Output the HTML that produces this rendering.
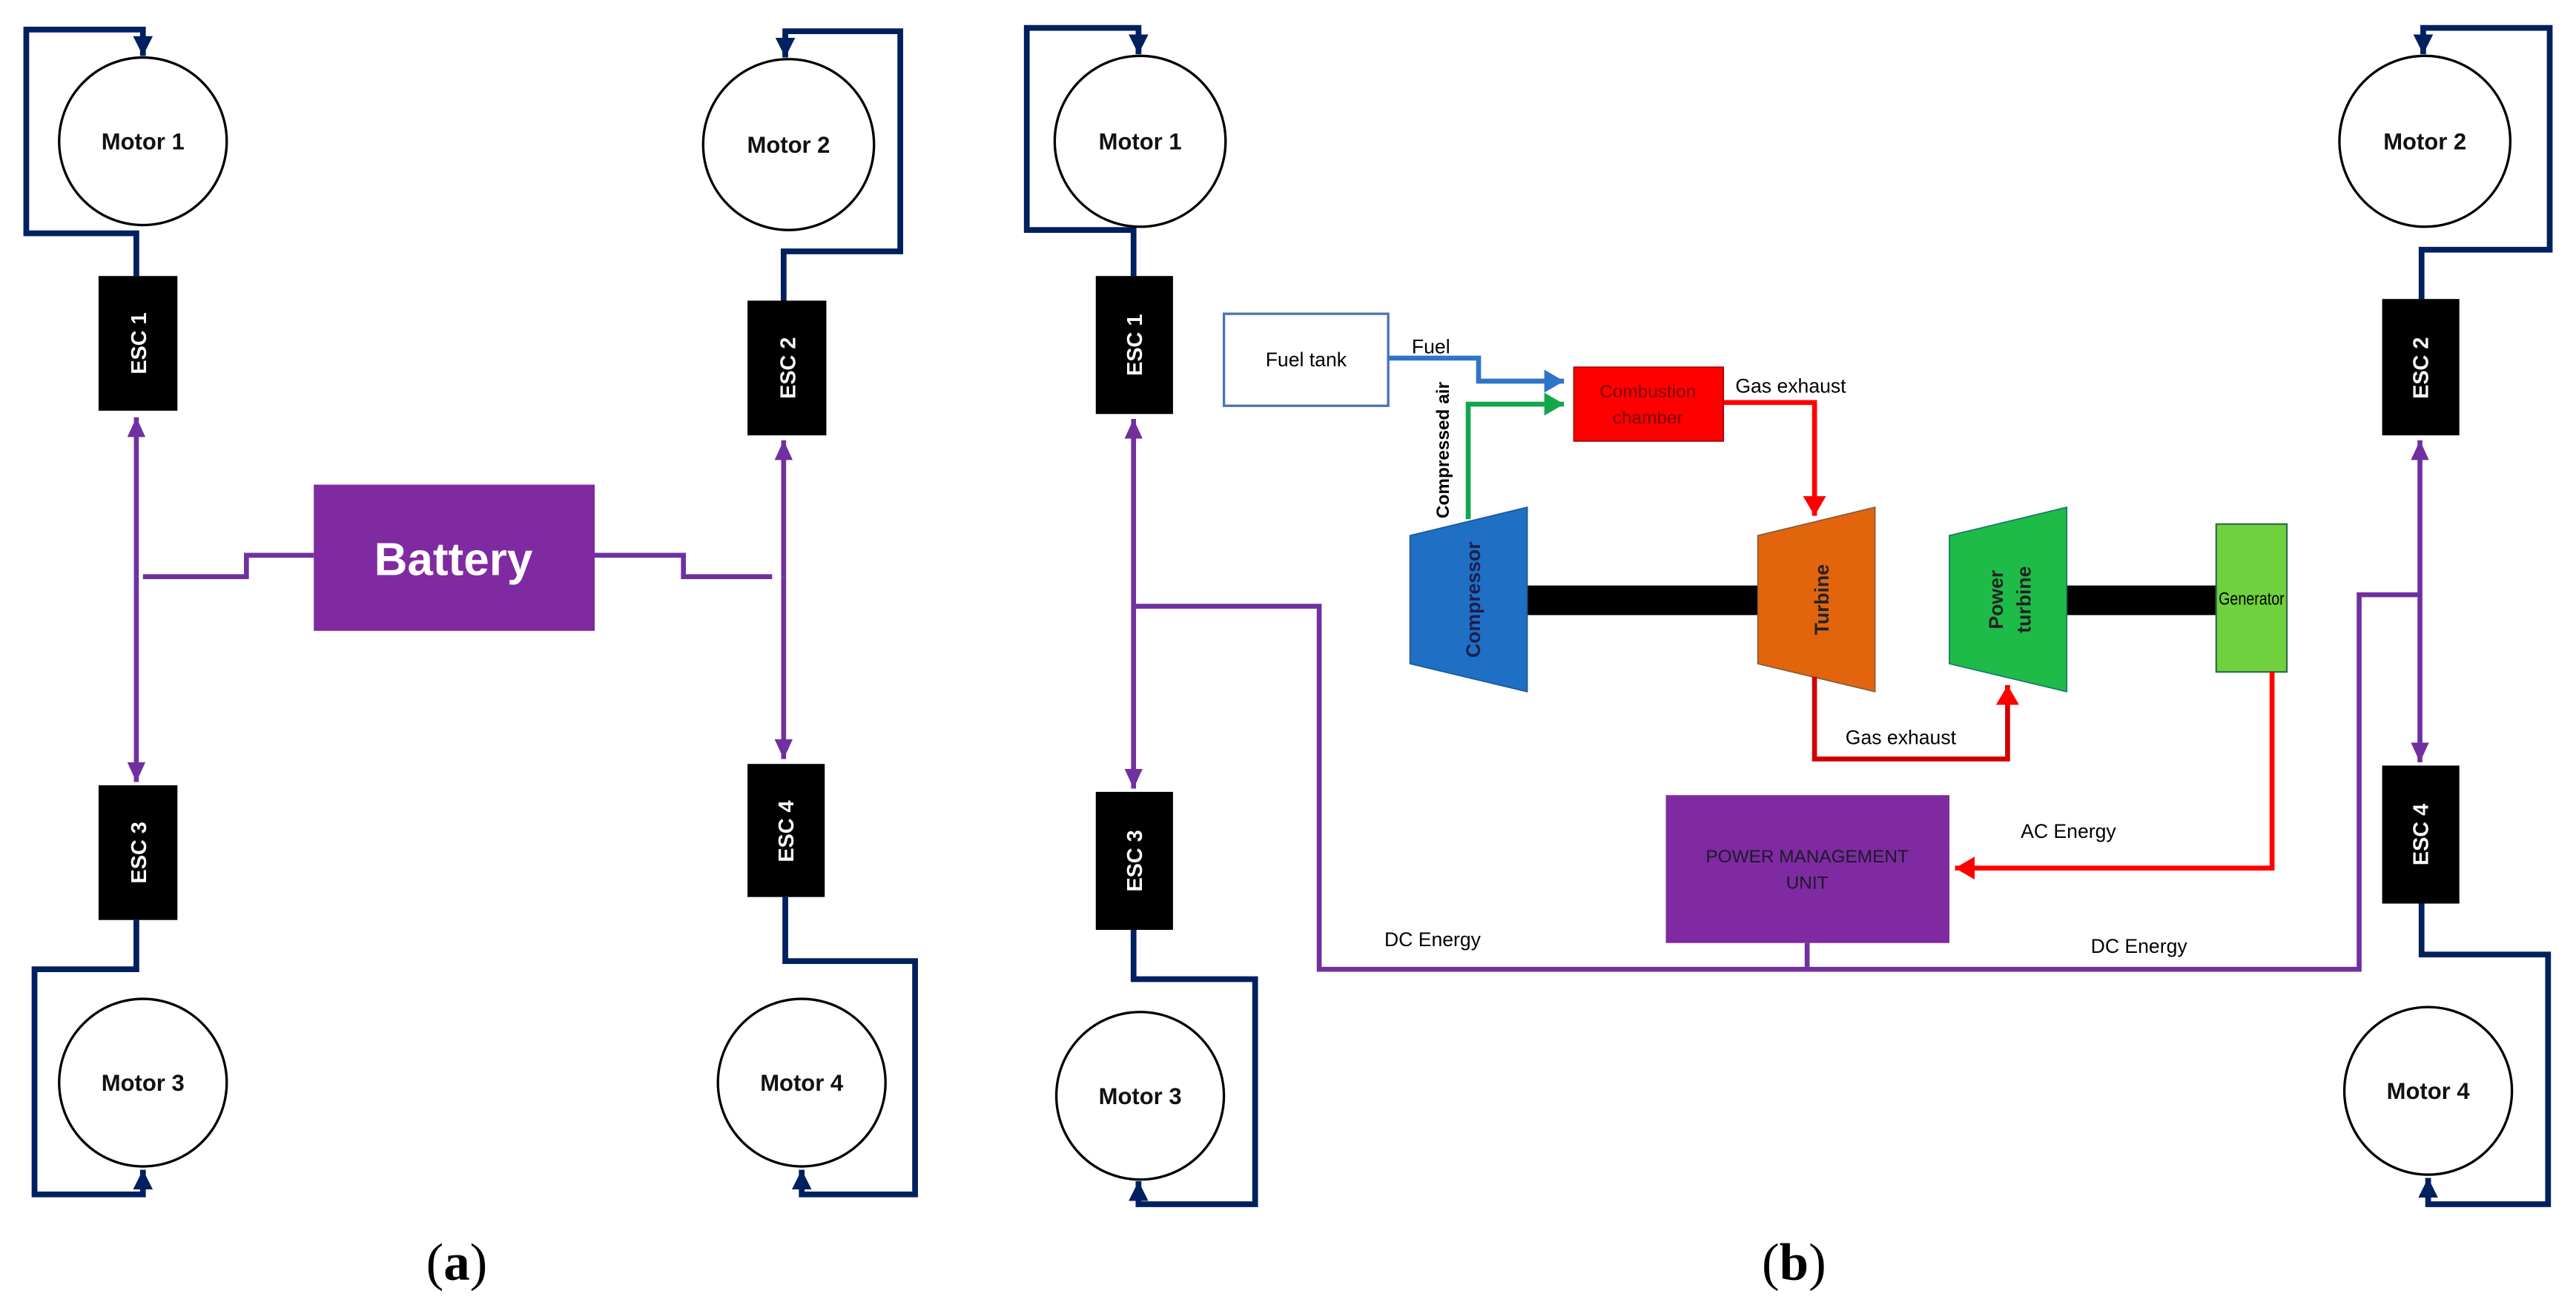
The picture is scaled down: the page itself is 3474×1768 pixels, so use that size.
<!DOCTYPE html>
<html><head><meta charset="utf-8"><style>html,body{margin:0;padding:0;background:#fff}svg{display:block}</style></head>
<body>
<svg width="3474" height="1768" viewBox="0 0 1568 798" preserveAspectRatio="none" xmlns="http://www.w3.org/2000/svg" font-family="Liberation Sans, sans-serif">
<defs>
<marker id="an" markerUnits="userSpaceOnUse" markerWidth="14" markerHeight="14" refX="12" refY="7" orient="auto"><path d="M0,1 L12,7 L0,13 z" fill="#002060"/></marker>
<marker id="ap" markerUnits="userSpaceOnUse" markerWidth="14" markerHeight="14" refX="12" refY="7" orient="auto"><path d="M0,1.5 L12,7 L0,12.5 z" fill="#7030a0"/></marker>
<marker id="ab" markerUnits="userSpaceOnUse" markerWidth="14" markerHeight="16" refX="12" refY="8" orient="auto"><path d="M0,1 L12,8 L0,15 z" fill="#2e75c9"/></marker>
<marker id="ag" markerUnits="userSpaceOnUse" markerWidth="14" markerHeight="16" refX="12" refY="8" orient="auto"><path d="M0,1 L12,8 L0,15 z" fill="#10a84a"/></marker>
<marker id="ar" markerUnits="userSpaceOnUse" markerWidth="14" markerHeight="16" refX="12" refY="8" orient="auto"><path d="M0,1 L12,8 L0,15 z" fill="#ff0000"/></marker>
</defs>
<g fill="none" stroke="#002060" stroke-width="3.5">
<polyline points="83,168 83,142 16,142 16,18 87,18 87,34" marker-end="url(#an)"/>
<polyline points="477,183 477,153 548,153 548,19 478,19 478,35" marker-end="url(#an)"/>
<polyline points="83,560 83,590 21,590 21,727 87,727 87,712" marker-end="url(#an)"/>
<polyline points="478,546 478,585 557,585 557,727 488,727 488,712" marker-end="url(#an)"/>
<polyline points="690,168 690,140 625,140 625,17 693,17 693,33" marker-end="url(#an)"/>
<polyline points="1474,182 1474,152 1552,152 1552,17 1475,17 1475,33" marker-end="url(#an)"/>
<polyline points="690,566 690,596 764,596 764,733 693,733 693,719" marker-end="url(#an)"/>
<polyline points="1474,550 1474,581 1551,581 1551,733 1478,733 1478,717" marker-end="url(#an)"/>
</g>
<g fill="#fff" stroke="#000" stroke-width="1.5">
<circle cx="87" cy="86" r="51"/><circle cx="480" cy="88" r="52"/><circle cx="87" cy="659" r="51"/><circle cx="488" cy="659" r="51"/>
<circle cx="694" cy="86" r="52"/><circle cx="1476" cy="86" r="52"/><circle cx="694" cy="667" r="51"/><circle cx="1478" cy="664" r="51"/>
</g>
<g font-weight="bold" font-size="14" text-anchor="middle" fill="#111">
<text x="87" y="91">Motor 1</text><text x="480" y="93">Motor 2</text><text x="87" y="664">Motor 3</text><text x="488" y="664">Motor 4</text>
<text x="694" y="91">Motor 1</text><text x="1476" y="91">Motor 2</text><text x="694" y="672">Motor 3</text><text x="1478" y="669">Motor 4</text>
</g>
<g fill="none" stroke="#7030a0" stroke-width="3">
<polyline points="191,338 150,338 150,351 87,351"/>
<polyline points="362,338 416,338 416,351 470,351"/>
<line x1="83" y1="351" x2="83" y2="254" marker-end="url(#ap)"/>
<line x1="83" y1="351" x2="83" y2="476" marker-end="url(#ap)"/>
<line x1="477" y1="351" x2="477" y2="268" marker-end="url(#ap)"/>
<line x1="477" y1="351" x2="477" y2="462" marker-end="url(#ap)"/>
<line x1="690" y1="368" x2="690" y2="255" marker-end="url(#ap)"/>
<line x1="690" y1="368" x2="690" y2="480" marker-end="url(#ap)"/>
<line x1="1473" y1="362" x2="1473" y2="268" marker-end="url(#ap)"/>
<line x1="1473" y1="362" x2="1473" y2="464" marker-end="url(#ap)"/>
<polyline points="690,369 803,369 803,590 1436,590 1436,362 1473,362"/>
<line x1="1100" y1="574" x2="1100" y2="590"/>
</g>
<g fill="#000">
<rect x="60" y="168" width="48" height="82"/><rect x="455" y="183" width="48" height="82"/>
<rect x="60" y="478" width="48" height="82"/><rect x="455" y="465" width="47" height="81"/>
<rect x="667" y="168" width="47" height="84"/><rect x="1450" y="182" width="47" height="83"/>
<rect x="667" y="482" width="47" height="84"/><rect x="1450" y="466" width="47" height="84"/>
</g>
<g fill="#fff" font-weight="bold" font-size="13" text-anchor="middle">
<text transform="translate(89,209) rotate(-90)">ESC 1</text>
<text transform="translate(484,224) rotate(-90)">ESC 2</text>
<text transform="translate(89,519) rotate(-90)">ESC 3</text>
<text transform="translate(483,506) rotate(-90)">ESC 4</text>
<text transform="translate(695,210) rotate(-90)">ESC 1</text>
<text transform="translate(1478,224) rotate(-90)">ESC 2</text>
<text transform="translate(695,524) rotate(-90)">ESC 3</text>
<text transform="translate(1478,508) rotate(-90)">ESC 4</text>
</g>
<rect x="191" y="295" width="171" height="89" fill="#7f2aa0"/>
<text x="276" y="350" fill="#fff" font-weight="bold" font-size="28" text-anchor="middle">Battery</text>
<rect x="745" y="191" width="100" height="56" fill="#fff" stroke="#4a72b8" stroke-width="1.5"/>
<text x="795" y="223" font-size="12" text-anchor="middle">Fuel tank</text>
<polyline points="845,218 900,218 900,232 952,232" fill="none" stroke="#2e75c9" stroke-width="3" marker-end="url(#ab)"/>
<text x="871" y="215" font-size="12" text-anchor="middle">Fuel</text>
<polyline points="893.7,316 893.7,246 952,246" fill="none" stroke="#10a84a" stroke-width="3" marker-end="url(#ag)"/>
<text transform="translate(882,274) rotate(-90)" font-size="11" font-weight="bold" text-anchor="middle">Compressed air</text>
<rect x="958" y="223.5" width="91" height="45" fill="#ff0000" stroke="#a00" stroke-width="0.8"/>
<text x="1003" y="242" font-size="11" fill="#7a0000" text-anchor="middle">Combustion</text>
<text x="1003" y="258" font-size="11" fill="#7a0000" text-anchor="middle">chamber</text>
<polyline points="1049,245 1104.5,245 1104.5,314" fill="none" stroke="#ff0000" stroke-width="3" marker-end="url(#ar)"/>
<text x="1090" y="239" font-size="12" text-anchor="middle">Gas exhaust</text>
<rect x="929" y="356.4" width="142" height="18" fill="#000"/>
<rect x="1257" y="356.4" width="93" height="18" fill="#000"/>
<polygon points="858.3,326 929.6,308.8 929.6,421 858.3,404" fill="#1f6fc4" stroke="#1a5a9a" stroke-width="0.8"/>
<text transform="translate(901,365) rotate(-90)" font-size="12" font-weight="bold" fill="#1a2050" text-anchor="middle">Compressor</text>
<polygon points="1070,326 1141.3,308.8 1141.3,421 1070,404" fill="#e2650e" stroke="#8a5a3a" stroke-width="0.8"/>
<text transform="translate(1113,365) rotate(-90)" font-size="12" font-weight="bold" fill="#222" text-anchor="middle">Turbine</text>
<polygon points="1186.6,326 1258,308.8 1258,421 1186.6,404" fill="#1fbb48" stroke="#167a6a" stroke-width="0.8"/>
<text transform="translate(1219,365) rotate(-90)" font-size="12" font-weight="bold" fill="#222" text-anchor="middle">Power</text>
<text transform="translate(1236,365) rotate(-90)" font-size="12" font-weight="bold" fill="#222" text-anchor="middle">turbine</text>
<rect x="1349" y="319" width="43" height="90" fill="#6fd13e" stroke="#2f6a4a" stroke-width="1"/>
<text x="1370.5" y="368" font-size="11" text-anchor="middle" textLength="40" lengthAdjust="spacingAndGlyphs">Generator</text>
<polyline points="1104.5,412 1104.5,462 1222,462 1222,417" fill="none" stroke="#d00000" stroke-width="3" marker-end="url(#ar)"/>
<text x="1157" y="453" font-size="12" text-anchor="middle">Gas exhaust</text>
<rect x="1014" y="484" width="172.6" height="90" fill="#7f2aa0"/>
<text x="1100" y="525" font-size="11" fill="#1a1a2a" text-anchor="middle">POWER MANAGEMENT</text>
<text x="1100" y="541" font-size="11" fill="#1a1a2a" text-anchor="middle">UNIT</text>
<polyline points="1383,409 1383,528.4 1190,528.4" fill="none" stroke="#ff0000" stroke-width="3" marker-end="url(#ar)"/>
<text x="1259" y="510" font-size="12" text-anchor="middle">AC Energy</text>
<text x="872" y="576" font-size="12" text-anchor="middle">DC Energy</text>
<text x="1302" y="580" font-size="12" text-anchor="middle">DC Energy</text>
<text x="278" y="779" font-family="Liberation Serif, serif" font-size="32" text-anchor="middle">(<tspan font-weight="bold">a</tspan>)</text>
<text x="1092" y="779" font-family="Liberation Serif, serif" font-size="32" text-anchor="middle">(<tspan font-weight="bold">b</tspan>)</text>
</svg>
</body></html>
